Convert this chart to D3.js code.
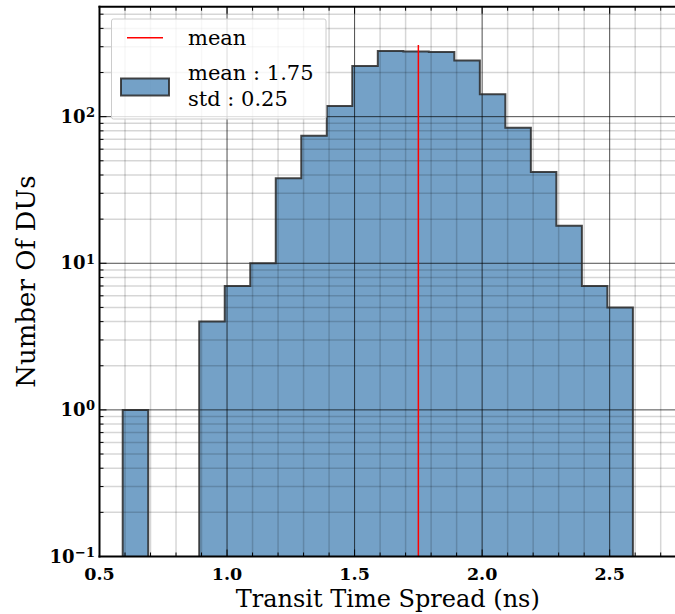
<!DOCTYPE html>
<html><head><meta charset="utf-8">
<script src="https://cdn.jsdelivr.net/npm/d3@7"></script>
<style>body{margin:0;background:#fff}svg{display:block}</style>
</head><body>
<svg id="c" width="675" height="614"></svg>
<script>
// ---- data ----
const binEdges = [0.591, 0.691, 0.791, 0.891, 0.991, 1.091, 1.191, 1.291, 1.391, 1.491, 1.591,
                  1.691, 1.791, 1.891, 1.991, 2.091, 2.191, 2.291, 2.391, 2.491, 2.591];
const counts = [1, 0, 0, 4, 7, 10, 38, 74, 118, 222, 280, 278, 276, 242, 142, 84, 42, 18, 7, 5];
const meanValue = 1.75;
const stdValue = 0.25;
const meanLineTop = 308;
const xTickValues = [0.5, 1.0, 1.5, 2.0, 2.5];
const xTickLabels = ["0.5", "1.0", "1.5", "2.0", "2.5"];
const yDecadeExponents = [-1, 0, 1, 2];
const legendLabels = ["mean", "mean : 1.75", "std : 0.25"];
const xTitle = "Transit Time Spread (ns)";
const yTitle = "Number Of DUs";

// ---- layout ----
const L = 99.5, R = 676, T = 6.7, B = 556.5;
const svg = d3.select("#c");
const x = d3.scaleLinear().domain([0.5, 2.76]).range([L, R]);
const y = d3.scaleLog().domain([0.1, Math.pow(10, 2.75)]).range([B, T]);
const FONT = "'DejaVu Serif', serif";
const barFill = "rgba(70,130,180,0.75)";

svg.append("defs").append("clipPath").attr("id", "clip")
  .append("rect").attr("x", L).attr("y", T).attr("width", R - L).attr("height", B - T);
const plot = svg.append("g").attr("clip-path", "url(#clip)");

// histogram fill (single stepped area)
const pts = counts.map((c, i) => ({ e: binEdges[i], c: c }));
pts.push({ e: binEdges[binEdges.length - 1], c: counts[counts.length - 1] });
const area = d3.area().curve(d3.curveStepAfter)
  .x(d => x(d.e)).y0(B).y1(d => d.c > 0 ? y(d.c) : B);
plot.append("path").datum(pts).attr("d", area).attr("fill", barFill).attr("stroke", "none");

// grid
const xMinor = d3.range(5, 28).map(i => i / 10).filter(v => !xTickValues.some(t => Math.abs(t - v) < 1e-9));
const yMinor = [];
yDecadeExponents.forEach(e => { for (let k = 2; k <= 9; k++) { const v = k * Math.pow(10, e); if (v <= y.domain()[1]) yMinor.push(v); } });
const yMajor = yDecadeExponents.map(e => Math.pow(10, e));

const grid = plot.append("g");
grid.selectAll(".gxm").data(xMinor).join("line")
  .attr("x1", d => x(d)).attr("x2", d => x(d)).attr("y1", T).attr("y2", B)
  .attr("stroke", "rgba(0,0,0,0.16)").attr("stroke-width", 1.5);
grid.selectAll(".gym").data(yMinor).join("line")
  .attr("y1", d => y(d)).attr("y2", d => y(d)).attr("x1", L).attr("x2", R)
  .attr("stroke", "rgba(0,0,0,0.16)").attr("stroke-width", 1.5);
grid.selectAll(".gxM").data(xTickValues).join("line")
  .attr("x1", d => x(d)).attr("x2", d => x(d)).attr("y1", T).attr("y2", B)
  .attr("stroke", "rgba(0,0,0,0.7)").attr("stroke-width", 1);
grid.selectAll(".gyM").data(yMajor).join("line")
  .attr("y1", d => y(d)).attr("y2", d => y(d)).attr("x1", L).attr("x2", R)
  .attr("stroke", "rgba(0,0,0,0.7)").attr("stroke-width", 1);

// histogram outline (step)
const opts = [{ e: binEdges[0], c: 0.05 }].concat(counts.map((c, i) => ({ e: binEdges[i], c: c > 0 ? c : 0.05 })));
opts.push({ e: binEdges[binEdges.length - 1], c: 0.05 });
const line = d3.line().curve(d3.curveStepAfter).x(d => x(d.e)).y(d => y(d.c));
plot.append("path").datum(opts).attr("d", line).attr("fill", "none")
  .attr("stroke", "rgba(40,40,40,0.85)").attr("stroke-width", 2).attr("stroke-linejoin", "miter");

// mean line
plot.append("line").attr("x1", x(meanValue)).attr("x2", x(meanValue))
  .attr("y1", y(meanLineTop)).attr("y2", B).attr("stroke", "red").attr("stroke-width", 1.5);

// spines
svg.append("line").attr("x1", L).attr("x2", L).attr("y1", T - 1).attr("y2", B + 1).attr("stroke", "#000").attr("stroke-width", 2);
svg.append("line").attr("x1", L - 1).attr("x2", R).attr("y1", B).attr("y2", B).attr("stroke", "#000").attr("stroke-width", 2);
svg.append("line").attr("x1", L - 1).attr("x2", R).attr("y1", T).attr("y2", T).attr("stroke", "#000").attr("stroke-width", 2);

// ticks (inward)
const tk = svg.append("g").attr("stroke", "#000").attr("stroke-width", 1);
xTickValues.forEach(v => {
  tk.append("line").attr("x1", x(v)).attr("x2", x(v)).attr("y1", B).attr("y2", B - 7);
  tk.append("line").attr("x1", x(v)).attr("x2", x(v)).attr("y1", T).attr("y2", T + 7);
});
xMinor.forEach(v => {
  tk.append("line").attr("x1", x(v)).attr("x2", x(v)).attr("y1", B).attr("y2", B - 4);
  tk.append("line").attr("x1", x(v)).attr("x2", x(v)).attr("y1", T).attr("y2", T + 4);
});
yMajor.forEach(v => tk.append("line").attr("x1", L).attr("x2", L + 7).attr("y1", y(v)).attr("y2", y(v)));
yMinor.forEach(v => tk.append("line").attr("x1", L).attr("x2", L + 4).attr("y1", y(v)).attr("y2", y(v)));

// x tick labels
svg.selectAll(".xl").data(xTickValues).join("text")
  .attr("x", d => x(d)).attr("y", 580).attr("text-anchor", "middle")
  .attr("font-family", FONT).attr("font-weight", "bold").attr("font-size", 17.5).attr("fill", "#000")
  .text((d, i) => xTickLabels[i]);

// y tick labels 10^e
yDecadeExponents.forEach(e => {
  const ty = y(Math.pow(10, e));
  const sup = svg.append("text").attr("x", 95).attr("y", ty + 0.5).attr("text-anchor", "end")
    .attr("font-family", FONT).attr("font-weight", "bold").attr("font-size", 13).attr("fill", "#000")
    .text(e < 0 ? "\u2212" + Math.abs(e) : String(e));
  const w = sup.node().getComputedTextLength();
  svg.append("text").attr("x", 95 - w - 0.5).attr("y", ty + 6).attr("text-anchor", "end")
    .attr("font-family", FONT).attr("font-weight", "bold").attr("font-size", 18).attr("fill", "#000")
    .text("10");
});

// axis titles
svg.append("text").attr("x", (L + R) / 2).attr("y", 607).attr("text-anchor", "middle")
  .attr("font-family", FONT).attr("font-size", 24).attr("fill", "#000").text(xTitle);
svg.append("text").attr("transform", `translate(35,${(T + B) / 2}) rotate(-90)`).attr("text-anchor", "middle")
  .attr("font-family", FONT).attr("font-size", 26).attr("fill", "#000").text(yTitle);

// legend
const lg = svg.append("g");
lg.append("rect").attr("x", 111.5).attr("y", 19).attr("width", 214.5).attr("height", 100).attr("rx", 2)
  .attr("fill", "rgba(255,255,255,0.8)").attr("stroke", "#cccccc").attr("stroke-width", 1);
lg.append("line").attr("x1", 127).attr("x2", 163).attr("y1", 37.7).attr("y2", 37.7).attr("stroke", "red").attr("stroke-width", 1.5);
lg.append("rect").attr("x", 121).attr("y", 78.5).attr("width", 48).attr("height", 17)
  .attr("fill", barFill).attr("stroke", "rgba(40,40,40,0.85)").attr("stroke-width", 2);
[[45, 0], [80, 1], [105.5, 2]].forEach(([by, i]) => {
  lg.append("text").attr("x", 188).attr("y", by).attr("font-family", FONT).attr("font-size", 21)
    .attr("fill", "#000").text(legendLabels[i]);
});
</script>
</body></html>
